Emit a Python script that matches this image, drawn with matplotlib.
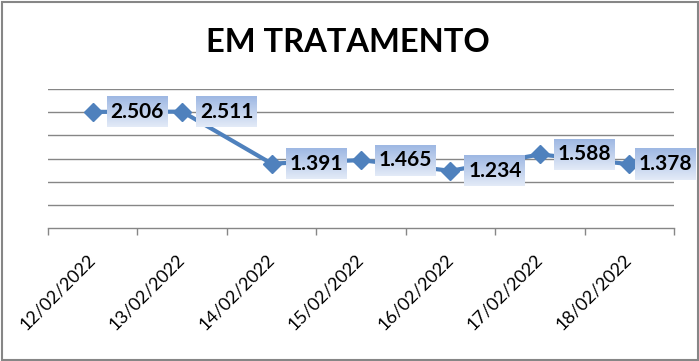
import matplotlib.pyplot as plt
import numpy as np
from matplotlib.patches import Rectangle

datas = ['12/02/2022', '13/02/2022', '14/02/2022', '15/02/2022',
         '16/02/2022', '17/02/2022', '18/02/2022']
valores = [2506, 2511, 1391, 1465, 1234, 1588, 1378]
rotulos = ['2.506', '2.511', '1.391', '1.465', '1.234', '1.588', '1.378']

plt.rcParams['font.family'] = ['Lato', 'DejaVu Sans']

W, H = 699, 361
fig = plt.figure(figsize=(W / 100, H / 100), dpi=100)
ax = fig.add_axes([48 / W, 133 / H, 626 / W, 139 / H])

x = np.arange(len(valores))
ax.plot(x, valores, color='#4f81bd', lw=3, marker='D', ms=9, zorder=3)

ax.set_xlim(-0.5, len(valores) - 0.5)
ax.set_ylim(0, 3000)
ax.set_yticks(np.arange(500, 3001, 500))
ax.yaxis.grid(True, color='#868686', lw=1)
ax.tick_params(axis='y', left=False, labelleft=False)
for s in ['top', 'left', 'right']:
    ax.spines[s].set_visible(False)
ax.spines['bottom'].set_color('#868686')
ax.spines['bottom'].set_linewidth(1)

ax.set_xticks(x)
ax.set_xticklabels(datas, rotation=45, ha='right', va='center',
                   rotation_mode='anchor', fontsize=13)
ax.set_xticks(np.arange(-0.5, len(valores)), minor=True)
ax.tick_params(axis='x', which='major', length=0, pad=21)
ax.tick_params(axis='x', which='minor', length=5, color='#868686', width=1)

# caixas dos rotulos com degrade
grad = np.linspace(0, 1, 64).reshape(-1, 1)
top = np.array([0.62, 0.72, 0.89])
bot = np.array([0.89, 0.92, 0.97])
img = top + (bot - top) * grad[:, :, None]
inv = ax.transData.inverted()
for i, (v, r) in enumerate(zip(valores, rotulos)):
    px, py = ax.transData.transform((i, v))
    x0 = px + 14
    x1 = x0 + 61
    if x1 > 696:
        x1 = 696
        x0 = x1 - 61
    (dx0, dy0) = inv.transform((x0, py - 15.5))
    (dx1, dy1) = inv.transform((x1, py + 15.5))
    ax.imshow(img, extent=(dx0, dx1, dy0, dy1), aspect='auto',
              zorder=4, clip_on=False, interpolation='bilinear')
    ax.text((dx0 + dx1) / 2, (dy0 + dy1) / 2, r, ha='center', va='center',
            fontsize=15, fontweight='bold', zorder=5)

ax.set_xlim(-0.5, len(valores) - 0.5)
ax.set_ylim(0, 3000)

fig.text(348 / W, 1 - 42 / H, 'EM TRATAMENTO', ha='center', va='center',
         fontsize=23.5, fontweight='bold')

fig.patches.append(Rectangle((1.5 / W, 1.5 / H), 696 / W, 358 / H,
                             transform=fig.transFigure, fill=False,
                             ec='#868686', lw=1.5))

fig.savefig('out.png', dpi=100)
